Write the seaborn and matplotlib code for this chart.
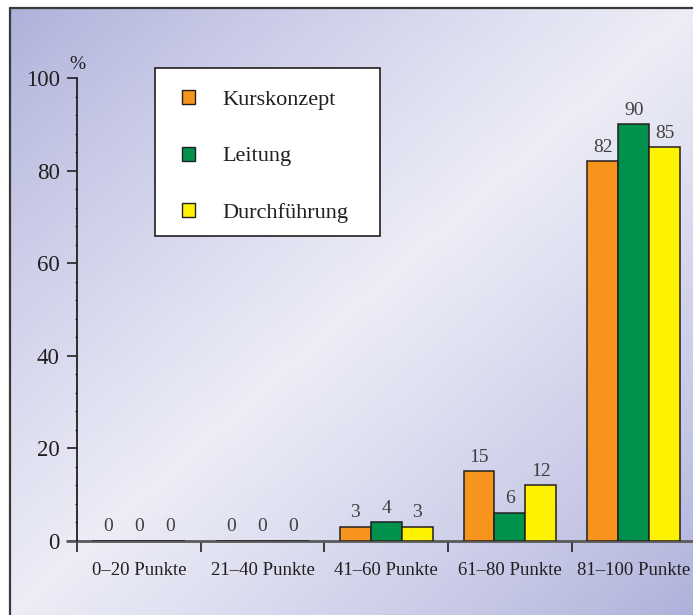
import numpy as np
import pandas as pd
import matplotlib
matplotlib.use("Agg")
import matplotlib.pyplot as plt
from matplotlib.lines import Line2D
from matplotlib.patches import Rectangle
import seaborn as sns

# ---- data ----
categories = ["0–20 Punkte", "21–40 Punkte", "41–60 Punkte", "61–80 Punkte", "81–100 Punkte"]
series_names = ["Kurskonzept", "Leitung", "Durchführung"]
kurskonzept = [0, 0, 3, 15, 82]
leitung = [0, 0, 4, 6, 90]
durchfuehrung = [0, 0, 3, 12, 85]
y_ticks = [0, 20, 40, 60, 80, 100]
colors = ["#F7941D", "#00914C", "#FFF200"]

df = pd.DataFrame({
    "Kategorie": categories * 3,
    "Wert": kurskonzept + leitung + durchfuehrung,
    "Serie": [series_names[0]] * 5 + [series_names[1]] * 5 + [series_names[2]] * 5,
})

sns.set_style("ticks")
plt.rcParams["font.family"] = ["Liberation Serif", "DejaVu Serif"]

W, H = 693, 615
fig = plt.figure(figsize=(W / 100, H / 100), dpi=100, facecolor="white")

# ---- gradient background inside frame ----
bg = fig.add_axes([10 / W, 0, 1 - 10 / W, (H - 7) / H], zorder=0)
n = 300
xx, yy = np.meshgrid(np.linspace(0, 1, n), np.linspace(0, 1, n))
t = (xx + yy) / 2.0
w = 1 - np.abs(2 * t - 1)
w = np.clip(w, 0, 1) ** 0.85
lav = np.array([0.68, 0.69, 0.855])
wht = np.array([0.93, 0.93, 0.97])
img = lav[None, None, :] + (wht - lav)[None, None, :] * w[:, :, None]
bg.imshow(img, aspect="auto", extent=[0, 1, 0, 1], origin="upper")
bg.set_axis_off()

# frame lines (left and top)
fig.add_artist(Line2D([10 / W, 10 / W], [0, 1 - 7.5 / H], transform=fig.transFigure,
                      color="#3a3a3a", lw=1.6, zorder=5))
fig.add_artist(Line2D([10 / W, 1], [1 - 7.5 / H, 1 - 7.5 / H], transform=fig.transFigure,
                      color="#3a3a3a", lw=1.6, zorder=5))

# ---- main axes ----
ax_left, ax_bottom = 77 / W, (H - 540.7) / H
ax = fig.add_axes([ax_left, ax_bottom, 1 - ax_left, (540.7 - 78) / H], zorder=2)
ax.patch.set_alpha(0)

sns.barplot(data=df, x="Kategorie", y="Wert", hue="Serie", palette=colors,
            width=0.75, edgecolor="#231f20", linewidth=1.1, saturation=1,
            ax=ax, zorder=3)

for cont in ax.containers:
    ax.bar_label(cont, fmt="{:.0f}", padding=4, fontsize=14, color="#3f3f3f")

ax.set_xlim(-0.5, 4.48)
ax.set_ylim(0, 100)
ax.set_xlabel("")
ax.set_ylabel("")

# y axis
ax.set_yticks(y_ticks)
ax.set_yticks(np.arange(0, 101, 4), minor=True)
ax.tick_params(axis="y", which="major", direction="out", length=7.5, width=1.2,
               color="#231f20", labelsize=16.5, labelcolor="#231f20", pad=5)
ax.tick_params(axis="y", which="minor", direction="out", length=1.5, width=0.8,
               color="#231f20")

# x axis: boundary ticks + category labels
ax.set_xticks([-0.5, 0.5, 1.5, 2.5, 3.5])
ax.set_xticklabels([])
ax.set_xticks(range(len(categories)), minor=True)
ax.set_xticklabels(categories, minor=True)
ax.tick_params(axis="x", which="major", direction="out", length=8, width=1.2,
               color="#231f20")
ax.tick_params(axis="x", which="minor", length=0, labelsize=13.5,
               labelcolor="#231f20", pad=15)

for s in ["top", "right", "bottom"]:
    ax.spines[s].set_visible(False)
ax.spines["left"].set_color("#231f20")
ax.spines["left"].set_linewidth(1.3)
ax.spines["left"].set_bounds(0, 100)
ax.axhline(0, xmin=-10 / 616, xmax=1, color="#5a5a5a", lw=2.0, clip_on=False, zorder=2)

ax.text(0, 1.03, "%", transform=ax.transAxes, ha="center", va="center",
        fontsize=14, color="#231f20")

# legend box (drawn separately) + legend contents
box = Rectangle((0.1266, 0.6585), 0.3653, 0.3631, transform=ax.transAxes,
                facecolor="white", edgecolor="#231f20", linewidth=1.2,
                clip_on=False, zorder=6)
ax.add_patch(box)

handles, labels = ax.get_legend_handles_labels()
leg = ax.legend(handles, labels, loc="upper left", bbox_to_anchor=(0.1705, 0.974),
                frameon=False, fontsize=16, labelspacing=1.65,
                handlelength=0.6, handleheight=0.6, handletextpad=1.2,
                borderpad=0, borderaxespad=0, title=None)
leg.set_zorder(7)
for h in leg.legend_handles:
    h.set_edgecolor("#231f20")
    h.set_linewidth(1.0)
for txt in leg.get_texts():
    txt.set_color("#231f20")

fig.savefig("out.png", dpi=100, facecolor="white")
